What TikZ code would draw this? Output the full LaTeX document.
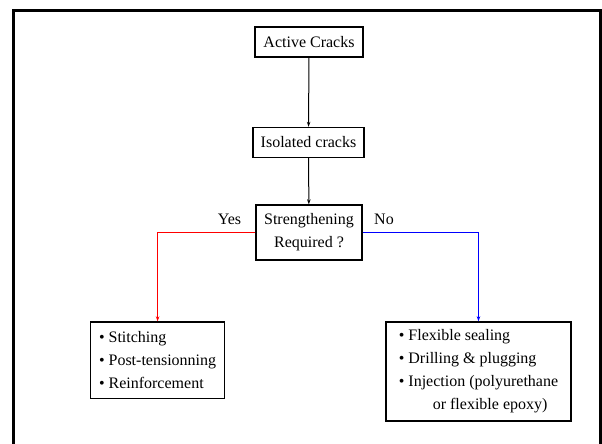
\documentclass[tikz,border=0pt]{standalone}
\usepackage{fontspec}
\setmainfont{Liberation Serif}
\usetikzlibrary{arrows.meta}
\begin{document}
\begin{tikzpicture}[x=1pt,y=-1pt,
  every node/.style={font=\fontsize{16}{23}\selectfont},
  box/.style={draw,line width=1.4pt,inner sep=0pt,align=center},
  listbox/.style={draw,line width=1.4pt,inner sep=0pt,align=left},
  conn/.style={line width=1pt,-{Stealth[length=5pt,width=3.5pt]}},
  lbl/.style={inner sep=0pt}]
\useasboundingbox (0,0) rectangle (602,444);
\draw[line width=3pt] (13,470) -- (13,11) -- (600.5,11) -- (600.5,470);
\node[box,minimum width=108pt,minimum height=30pt] (active) at (309,42) {Active Cracks};
\node[box,minimum width=111pt,minimum height=30pt] (iso) at (308.5,142.5) {Isolated cracks};
\node[box,minimum width=106pt,minimum height=55pt] (str) at (309,232.5) {Strengthening\\Required ?};
\node[listbox,minimum width=134pt,minimum height=76.6pt] (left) at (157.6,360.3)
  {• Stitching\\• Post-tensionning\\• Reinforcement};
\node[listbox,minimum width=185pt,minimum height=99pt] (right) at (478.5,371.5)
  {• Flexible sealing\\• Drilling \& plugging\\• Injection (polyurethane\\\hspace*{34pt}or flexible epoxy)\hspace*{6pt}};
\node[lbl] (yes) at (229.5,219) {Yes};
\node[lbl] (no) at (384,219) {No};
\draw[conn] (active) -- (iso);
\draw[conn] (iso) -- (str);
\draw[conn,red] (str.west) -| (left.north);
\draw[conn,blue] (str.east) -| (right.north);
\end{tikzpicture}
\end{document}
